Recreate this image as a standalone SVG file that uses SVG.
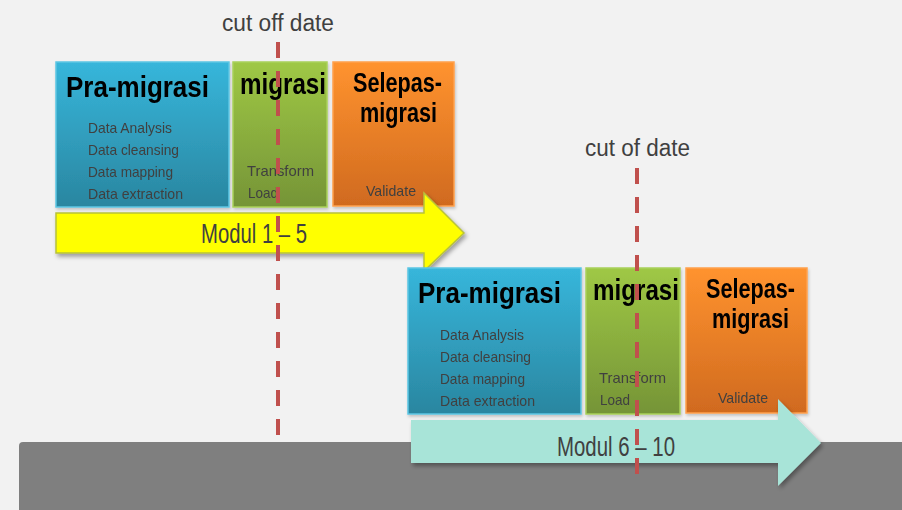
<svg xmlns="http://www.w3.org/2000/svg" width="902" height="510" viewBox="0 0 902 510">
<defs>
<linearGradient id="gBlue" x1="0" y1="0" x2="0" y2="1"><stop offset="0" stop-color="#37b6db"/><stop offset="1" stop-color="#2a86a0"/></linearGradient>
<linearGradient id="gGreen" x1="0" y1="0" x2="0" y2="1"><stop offset="0" stop-color="#9fc845"/><stop offset="1" stop-color="#759437"/></linearGradient>
<linearGradient id="gOrange" x1="0" y1="0" x2="0" y2="1"><stop offset="0" stop-color="#ff932f"/><stop offset="1" stop-color="#d06a1f"/></linearGradient>
<filter id="sh" x="-10%" y="-10%" width="130%" height="140%"><feDropShadow dx="2" dy="3" stdDeviation="2" flood-color="#000" flood-opacity="0.35"/></filter>
<filter id="shb" x="-10%" y="-10%" width="130%" height="130%"><feDropShadow dx="1" dy="2" stdDeviation="1.5" flood-color="#000" flood-opacity="0.2"/></filter>
</defs>
<style>
.head{font-family:"Liberation Sans",Arial,sans-serif;font-weight:bold;fill:#000;}
.sub{font-family:"Liberation Sans",Arial,sans-serif;font-size:15px;fill:#404040;}
.cap{font-family:"Liberation Sans",Arial,sans-serif;font-size:23px;fill:#404040;}
.lbl{font-family:"Liberation Sans",Arial,sans-serif;font-size:27px;fill:#404040;}
.blue{fill:url(#gBlue);stroke:#5cc6e4;stroke-width:1.5;}
.green{fill:url(#gGreen);stroke:#a9d159;stroke-width:1.5;}
.orange{fill:url(#gOrange);stroke:#ffa14c;stroke-width:1.5;}
.cut{stroke:#c0504d;stroke-width:4;stroke-dasharray:16 13;fill:none;}
</style>
<rect x="0" y="0" width="902" height="510" fill="#f2f2f2"/>
<rect id="ground" x="19" y="442" width="890" height="80" rx="4" fill="#7f7f7f"/>

<!-- top group -->
<g id="pra1" filter="url(#shb)">
<rect class="blue" x="56" y="62" width="173" height="145"/>
<text class="head" x="66" y="97" font-size="30" textLength="143" lengthAdjust="spacingAndGlyphs">Pra-migrasi</text>
<text class="sub" x="88" y="133" textLength="84" lengthAdjust="spacingAndGlyphs">Data Analysis</text>
<text class="sub" x="88" y="155" textLength="91" lengthAdjust="spacingAndGlyphs">Data cleansing</text>
<text class="sub" x="88" y="177" textLength="85" lengthAdjust="spacingAndGlyphs">Data mapping</text>
<text class="sub" x="88" y="199" textLength="95" lengthAdjust="spacingAndGlyphs">Data extraction</text>
</g>
<g id="mig1" filter="url(#shb)">
<rect class="green" x="233" y="62" width="94" height="145"/>
<text class="head" x="240" y="94" font-size="29" textLength="86" lengthAdjust="spacingAndGlyphs">migrasi</text>
<text class="sub" x="247" y="176" textLength="67" lengthAdjust="spacingAndGlyphs">Transform</text>
<text class="sub" x="248" y="198" textLength="30" lengthAdjust="spacingAndGlyphs">Load</text>
</g>
<g id="sel1" filter="url(#shb)">
<rect class="orange" x="333" y="62" width="121" height="144"/>
<text class="head" x="353" y="92" font-size="27" textLength="89" lengthAdjust="spacingAndGlyphs">Selepas-</text>
<text class="head" x="360" y="122" font-size="27" textLength="77" lengthAdjust="spacingAndGlyphs">migrasi</text>
<text class="sub" x="366" y="196" textLength="50" lengthAdjust="spacingAndGlyphs">Validate</text>
</g>
<g id="arrow1">
<path d="M56,213 H424 V193 L464,233 L424,271 V253 H56 Z" fill="#ffff00" stroke="#b8c23a" stroke-width="1.5" filter="url(#sh)"/>
<text class="lbl" x="201" y="243" textLength="106" lengthAdjust="spacingAndGlyphs">Modul 1 – 5</text>
</g>

<!-- bottom group -->
<g id="pra2" filter="url(#shb)">
<rect class="blue" x="408" y="268" width="173" height="146"/>
<text class="head" x="418" y="303" font-size="30" textLength="143" lengthAdjust="spacingAndGlyphs">Pra-migrasi</text>
<text class="sub" x="440" y="340" textLength="84" lengthAdjust="spacingAndGlyphs">Data Analysis</text>
<text class="sub" x="440" y="362" textLength="91" lengthAdjust="spacingAndGlyphs">Data cleansing</text>
<text class="sub" x="440" y="384" textLength="85" lengthAdjust="spacingAndGlyphs">Data mapping</text>
<text class="sub" x="440" y="406" textLength="95" lengthAdjust="spacingAndGlyphs">Data extraction</text>
</g>
<g id="mig2" filter="url(#shb)">
<rect class="green" x="586" y="268" width="94" height="146"/>
<text class="head" x="593" y="300" font-size="29" textLength="86" lengthAdjust="spacingAndGlyphs">migrasi</text>
<text class="sub" x="599" y="383" textLength="67" lengthAdjust="spacingAndGlyphs">Transform</text>
<text class="sub" x="600" y="405" textLength="30" lengthAdjust="spacingAndGlyphs">Load</text>
</g>
<g id="sel2" filter="url(#shb)">
<rect class="orange" x="686" y="268" width="121" height="145"/>
<text class="head" x="706" y="298" font-size="27" textLength="89" lengthAdjust="spacingAndGlyphs">Selepas-</text>
<text class="head" x="712" y="328" font-size="27" textLength="77" lengthAdjust="spacingAndGlyphs">migrasi</text>
<text class="sub" x="718" y="403" textLength="50" lengthAdjust="spacingAndGlyphs">Validate</text>
</g>
<g id="arrow2">
<path d="M411,420 H778 V399 L821,443 L778,486 V463 H411 Z" fill="#a8e4d8" filter="url(#sh)"/>
<text class="lbl" x="557" y="456" textLength="118" lengthAdjust="spacingAndGlyphs">Modul 6 – 10</text>
</g>

<g id="connectors">
<line class="cut" x1="278" y1="42" x2="278" y2="438"/>
<line class="cut" x1="637" y1="168" x2="637" y2="474"/>
</g>
<g id="cutoff1"><text class="cap" x="222" y="31" textLength="112" lengthAdjust="spacingAndGlyphs">cut off date</text></g>
<g id="cutoff2"><text class="cap" x="585" y="156" textLength="105" lengthAdjust="spacingAndGlyphs">cut of date</text></g>
</svg>
